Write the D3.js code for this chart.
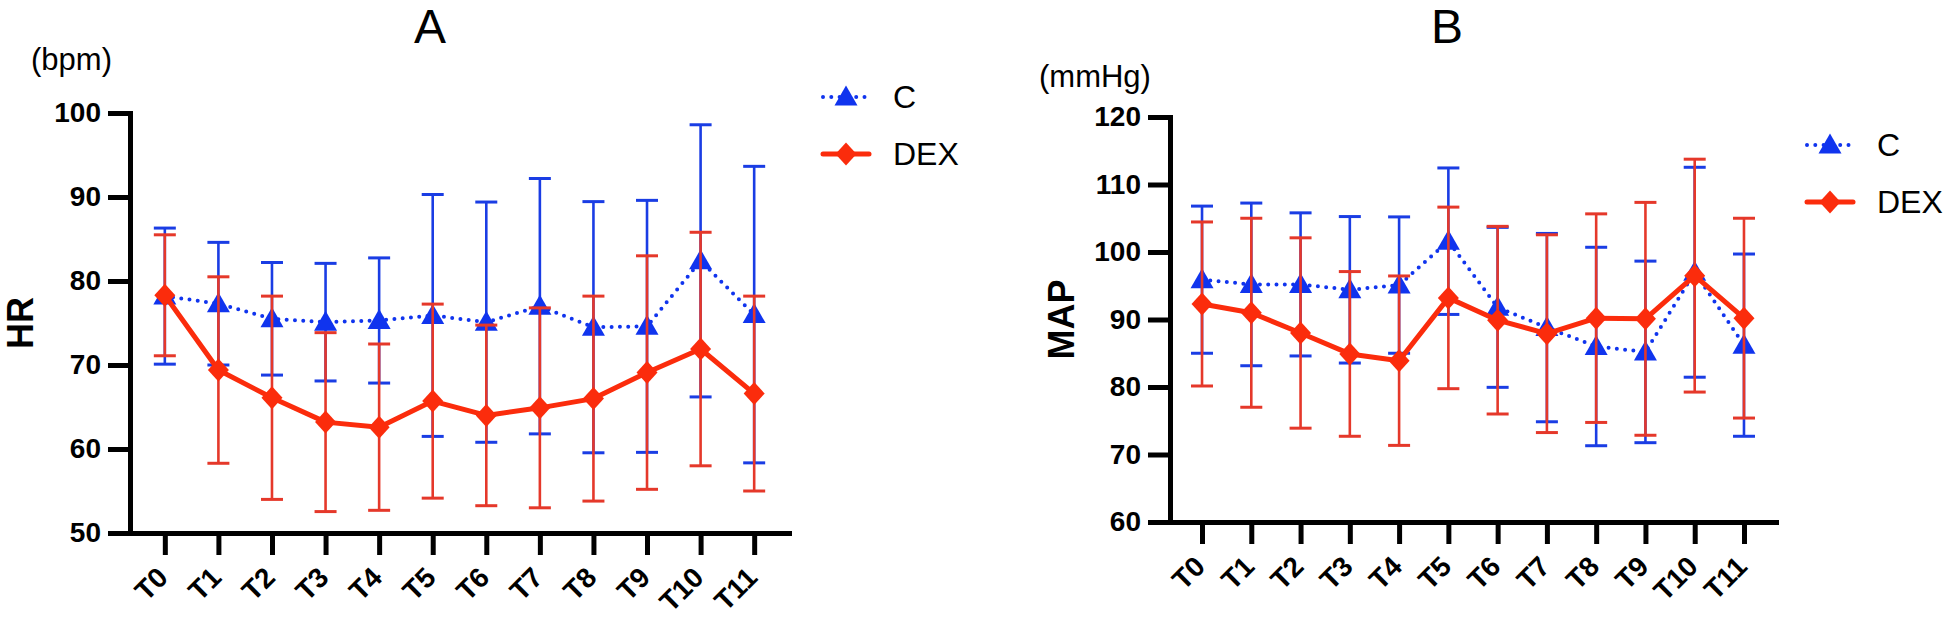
<!DOCTYPE html>
<html>
<head>
<meta charset="utf-8">
<script src="https://cdn.jsdelivr.net/npm/d3@7"></script>
<style>
  html, body { margin: 0; padding: 0; background: #fff; }
  svg { display: block; font-family: "Liberation Sans", Arial, Helvetica, sans-serif; }
</style>
</head>
<body>
<svg id="chart" width="1945" height="622"></svg>
<script>
// ---------- DATA ----------
const categories = ["T0","T1","T2","T3","T4","T5","T6","T7","T8","T9","T10","T11"];
const seriesNames = ["C", "DEX"];

// Panel A: HR (bpm)
const hrC_mean   = [78.2, 77.3, 75.5, 75.1, 75.3, 75.9, 75.1, 77.0, 74.5, 74.6, 82.4, 76.0];
const hrC_sd     = [8.1, 7.3, 6.7, 7.0, 7.45, 14.4, 14.3, 15.2, 14.95, 15.0, 16.2, 17.65];
const hrDEX_mean = [78.3, 69.4, 66.1, 63.2, 62.6, 65.7, 64.0, 64.9, 66.0, 69.1, 71.9, 66.6];
const hrDEX_sd   = [7.2, 11.1, 12.1, 10.65, 9.9, 11.55, 10.75, 11.9, 12.2, 13.9, 13.9, 11.6];
const hrTicks    = [50, 60, 70, 80, 90, 100];

// Panel B: MAP (mmHg)
const mapC_mean   = [95.9, 95.2, 95.2, 94.4, 95.1, 101.6, 91.8, 88.8, 86.0, 85.2, 97.0, 86.2];
const mapC_sd     = [10.9, 12.05, 10.6, 10.85, 10.1, 10.85, 11.85, 13.95, 14.7, 13.45, 15.55, 13.5];
const mapDEX_mean = [92.3, 91.0, 88.0, 84.9, 83.9, 93.2, 89.9, 87.9, 90.2, 90.1, 96.5, 90.2];
const mapDEX_sd   = [12.15, 14.0, 14.1, 12.2, 12.55, 13.45, 13.9, 14.65, 15.45, 17.25, 17.25, 14.8];
const mapTicks    = [60, 70, 80, 90, 100, 110, 120];

// ---------- STYLE ----------
const BLUE = "#1034ee", BLUE_ERR = "#1a3de4";
const RED = "#fb2c0c", RED_ERR = "#e5382a";
const triPath = "M0,-11.5L11.5,8.5L-11.5,8.5Z";
const diaPath = "M0,-11.5L10.5,0L0,11.5L-10.5,0Z";

const svg = d3.select("#chart");

function drawPanel(cfg) {
  const g = svg.append("g");
  const x = d3.scalePoint().domain(categories).range([cfg.x0, cfg.x1]).padding(0.65);
  const y = d3.scaleLinear().domain(cfg.domain).range([cfg.y0, cfg.y1]);

  // Y axis
  const ya = g.append("g").attr("transform", `translate(${cfg.x0},0)`)
    .call(d3.axisLeft(y).tickValues(cfg.ticks).tickSize(22).tickSizeOuter(0).tickPadding(7));
  ya.select(".domain").attr("stroke", "#000").attr("stroke-width", 5).attr("stroke-linecap", "square");
  ya.selectAll(".tick line").attr("stroke", "#000").attr("stroke-width", 5);
  ya.selectAll(".tick text").attr("fill", "#000").style("font-size", "28px").style("font-weight", "bold")
    .style("font-family", "'Liberation Sans', Arial, sans-serif");

  // X axis
  const xa = g.append("g").attr("transform", `translate(0,${cfg.y0})`)
    .call(d3.axisBottom(x).tickSize(22).tickSizeOuter(0));
  xa.select(".domain").attr("stroke", "#000").attr("stroke-width", 5).attr("stroke-linecap", "square");
  xa.selectAll(".tick line").attr("stroke", "#000").attr("stroke-width", 5);
  xa.selectAll(".tick text").attr("fill", "#000").style("font-size", "28px").style("font-weight", "bold")
    .style("font-family", "'Liberation Sans', Arial, sans-serif")
    .attr("text-anchor", "end").attr("dy", null)
    .attr("transform", "translate(-1,41) rotate(-45)")
    .attr("y", 0).attr("x", 0).attr("dominant-baseline", "middle");

  const series = [
    {name: "C", mean: cfg.cMean, sd: cfg.cSd, color: BLUE, err: BLUE_ERR, path: triPath, dotted: true},
    {name: "DEX", mean: cfg.dMean, sd: cfg.dSd, color: RED, err: RED_ERR, path: diaPath, dotted: false}
  ];

  series.forEach(s => {
    const pts = categories.map((c, i) => ({c, m: s.mean[i], sd: s.sd[i]}));
    const eb = g.append("g");
    pts.forEach(p => {
      const cx = x(p.c), yt = y(p.m + p.sd), yb = y(p.m - p.sd);
      eb.append("line").attr("x1", cx).attr("x2", cx).attr("y1", yt).attr("y2", yb)
        .attr("stroke", s.err).attr("stroke-width", 2.6);
      [yt, yb].forEach(yy => eb.append("line").attr("x1", cx - 11).attr("x2", cx + 11)
        .attr("y1", yy).attr("y2", yy).attr("stroke", s.err).attr("stroke-width", 3));
    });
    const line = d3.line().x(p => x(p.c)).y(p => y(p.m));
    const lp = g.append("path").datum(pts).attr("d", line).attr("fill", "none").attr("stroke", s.color);
    if (s.dotted) lp.attr("stroke-width", 4).attr("stroke-dasharray", "0 8.3").attr("stroke-linecap", "round");
    else lp.attr("stroke-width", 5).attr("stroke-linejoin", "round");
    g.selectAll(null).data(pts).enter().append("path")
      .attr("d", s.path).attr("fill", s.color)
      .attr("transform", p => `translate(${x(p.c)},${y(p.m)})`);
  });

  // Titles / labels
  g.append("text").attr("x", cfg.titleX).attr("y", 43).attr("text-anchor", "middle")
    .style("font-size", "48px").text(cfg.title);
  g.append("text").attr("x", cfg.unitX).attr("y", cfg.unitY).attr("text-anchor", "start")
    .style("font-size", "31px").text(cfg.unit);
  g.append("text").attr("transform", `translate(${cfg.labelX},${(cfg.y0 + cfg.y1) / 2}) rotate(-90)`)
    .attr("text-anchor", "middle").style("font-size", "36px").style("font-weight", "bold").text(cfg.label);

  // Legend
  const lg = g.append("g").attr("transform", `translate(${cfg.legX},${cfg.legY})`);
  series.forEach((s, i) => {
    const yy = i * 57;
    const ln = lg.append("line").attr("x1", 0).attr("x2", 46).attr("y1", yy).attr("y2", yy).attr("stroke", s.color);
    if (s.dotted) ln.attr("stroke-width", 4).attr("stroke-dasharray", "0 8.3").attr("stroke-linecap", "round");
    else ln.attr("stroke-width", 5).attr("stroke-linecap", "round");
    lg.append("path").attr("d", s.path).attr("fill", s.color).attr("transform", `translate(23,${yy})`);
    lg.append("text").attr("x", 70).attr("y", yy).attr("dominant-baseline", "central")
      .style("font-size", "32px").text(seriesNames[i]);
  });
}

drawPanel({
  x0: 130, x1: 789, y0: 533, y1: 113, domain: [50, 100], ticks: hrTicks,
  cMean: hrC_mean, cSd: hrC_sd, dMean: hrDEX_mean, dSd: hrDEX_sd,
  title: "A", titleX: 430, unit: "(bpm)", unitX: 31, unitY: 70,
  label: "HR", labelX: 33, legX: 823, legY: 97
});

drawPanel({
  x0: 1170, x1: 1776, y0: 522, y1: 117, domain: [60, 120], ticks: mapTicks,
  cMean: mapC_mean, cSd: mapC_sd, dMean: mapDEX_mean, dSd: mapDEX_sd,
  title: "B", titleX: 1447, unit: "(mmHg)", unitX: 1039, unitY: 87,
  label: "MAP", labelX: 1074, legX: 1807, legY: 145
});
</script>
</body>
</html>
